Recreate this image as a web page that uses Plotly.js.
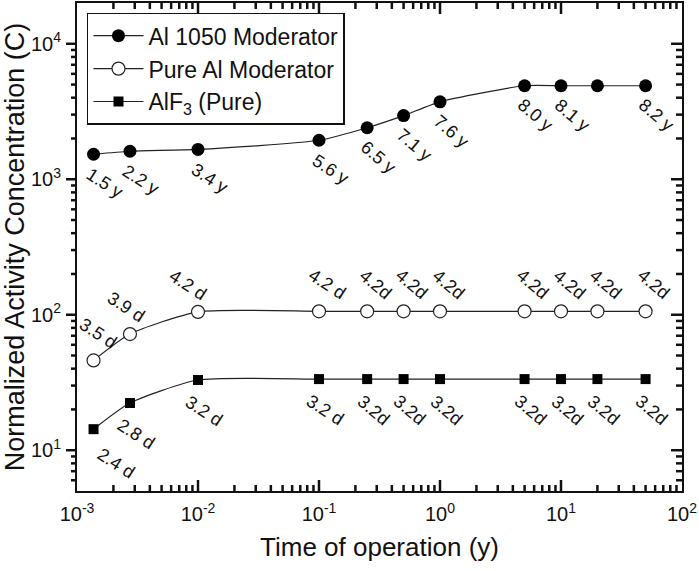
<!DOCTYPE html>
<html>
<head>
<meta charset="utf-8">
<script src="https://cdn.plot.ly/plotly-3.0.1.min.js"></script>
<style>
  html, body { margin: 0; padding: 0; background: #fff; }
  #plot { width: 699px; height: 571px; }
</style>
</head>
<body>
<div id="plot"></div>
<script>
// time of operation (years)
var timeYears = [0.00137, 0.00274, 0.01, 0.1, 0.25, 0.5, 1, 5, 10, 20, 50];

// normalized activity concentration
var al1050 = [1530, 1610, 1660, 1940, 2400, 2950, 3730, 4900, 4900, 4900, 4900];
var pureAl = [46, 72, 105, 106, 106, 106, 106, 106, 106, 106, 106];
var alf3 = [14.3, 22.3, 33, 33.5, 33.5, 33.5, 33.5, 33.5, 33.5, 33.5, 33.5];

// point labels
var al1050Labels = ["1.5 y", "2.2 y", "3.4 y", "5.6 y", "6.5 y", "7.1 y", "7.6 y", "8.0 y", "8.1 y", "", "8.2 y"];
var pureAlLabels = ["3.5 d", "3.9 d", "4.2 d", "4.2 d", "4.2d", "4.2d", "4.2d", "4.2d", "4.2d", "4.2d", "4.2d"];
var alf3Labels = ["2.4 d", "2.8 d", "3.2 d", "3.2 d", "3.2d", "3.2d", "3.2d", "3.2d", "3.2d", "3.2d", "3.2d"];

// tick labels
var xTickVals = [0.001, 0.01, 0.1, 1, 10, 100];
var xTickText = ["10<sup>-3</sup>", "10<sup>-2</sup>", "10<sup>-1</sup>", "10<sup>0</sup>", "10<sup>1</sup>", "10<sup>2</sup>"];
var yTickVals = [10, 100, 1000, 10000];
var yTickText = ["10<sup>1</sup>", "10<sup>2</sup>", "10<sup>3</sup>", "10<sup>4</sup>"];

// minor tick positions: 2..9 within every decade
function minorTicks(lo, hi, vmin, vmax) {
    var out = [];
    for (var p = lo; p < hi; p++) {
        for (var m = 2; m <= 9; m++) {
            var v = m * Math.pow(10, p);
            if (v > vmin && v < vmax) out.push(v);
        }
    }
    return out;
}
var xMinor = minorTicks(-3, 2, 0.001, 100);
var yMinor = minorTicks(0, 5, 5, 20000);

var font = "Liberation Sans, Arial, sans-serif";
var axisColor = '#111';
var lineStyle = {color: '#222', width: 1.2, shape: 'spline', smoothing: 0.6};

var traces = [
    {
        x: timeYears, y: al1050, name: 'Al 1050 Moderator',
        mode: 'lines+markers', line: lineStyle,
        marker: {symbol: 'circle', size: 13, color: '#000'}
    },
    {
        x: timeYears, y: pureAl, name: 'Pure Al Moderator',
        mode: 'lines+markers', line: lineStyle,
        marker: {symbol: 'circle', size: 13, color: '#fff', line: {color: '#222', width: 1.2}}
    },
    {
        x: timeYears, y: alf3, name: 'AlF<sub>3</sub> (Pure)',
        mode: 'lines+markers', line: lineStyle,
        marker: {symbol: 'square', size: 10, color: '#000'}
    }
];

// rotated labels next to each point
var annotations = [];
function addLabels(vals, labels, dx, dy, dxFirst, dyFirst) {
    for (var i = 0; i < timeYears.length; i++) {
        if (!labels[i]) continue;
        annotations.push({
            x: Math.log10(timeYears[i]), y: Math.log10(vals[i]),
            xref: 'x', yref: 'y', text: labels[i], showarrow: false,
            textangle: timeYears[i] >= 0.25 ? 40 : 33,
            xshift: i === 0 && dxFirst !== undefined ? dxFirst : dx,
            yshift: i === 0 && dyFirst !== undefined ? dyFirst : dy,
            font: {family: font, size: 18, color: '#111'}
        });
    }
}
addLabels(al1050, al1050Labels, 11, -29);
addLabels(pureAl, pureAlLabels, 8, 27, 4, 27);
addLabels(alf3, alf3Labels, 6, -31, 22, -34);

// a couple of pure Al labels sit left of their points
annotations.forEach(function(a) {
    if (a.text === "3.9 d") a.xshift = -4;
    if (a.text === "4.2 d" && Math.abs(a.x + 2) < 0.01) a.xshift = -10;
});

// tick marks as pixel-sized shapes (bottom/top/right point inside, left points outside)
var shapes = [];
var tickLine = {color: axisColor, width: 2.5};
function xTick(v, len, atTop) {
    shapes.push({type: 'line', xref: 'x', yref: 'paper', x0: v, x1: v, layer: 'above',
        ysizemode: 'pixel', yanchor: atTop ? 1 : 0, y0: 0, y1: atTop ? -len : len, line: tickLine});
}
function yTick(v, len, atRight) {
    shapes.push({type: 'line', xref: 'paper', yref: 'y', y0: v, y1: v, layer: 'above',
        xsizemode: 'pixel', xanchor: atRight ? 1 : 0, x0: 0, x1: -len, line: tickLine});
}
xTickVals.slice(1, -1).forEach(function(v) { xTick(v, 11, false); xTick(v, 11, true); });
xMinor.forEach(function(v) { xTick(v, 6, false); xTick(v, 6, true); });
yTickVals.forEach(function(v) { yTick(v, 11, false); yTick(v, 11, true); });
yMinor.forEach(function(v) { yTick(v, 6, false); yTick(v, 6, true); });

var layout = {
    width: 699, height: 571,
    margin: {l: 77, r: 17, t: 3, b: 80},
    paper_bgcolor: '#fff', plot_bgcolor: '#fff',
    font: {family: font, color: '#111'},
    showlegend: true,
    legend: {
        x: 0.0165, y: 0.98, xanchor: 'left', yanchor: 'top',
        bgcolor: '#fff', bordercolor: axisColor, borderwidth: 1.5,
        font: {family: font, size: 23, color: '#111'},
        itemwidth: 50, tracegroupgap: 0
    },
    xaxis: {
        type: 'log', range: [-3, 2],
        tickmode: 'array', tickvals: xTickVals, ticktext: xTickText,
        showgrid: false, zeroline: false,
        showline: true, linecolor: axisColor, linewidth: 2, mirror: true,
        ticks: '', ticklabelstandoff: 4,
        tickfont: {family: font, size: 20, color: '#111'},
        title: {text: 'Time of operation (y)', font: {family: font, size: 26, color: '#111'}, standoff: 14}
    },
    yaxis: {
        type: 'log', range: [Math.log10(5), Math.log10(20000)],
        tickmode: 'array', tickvals: yTickVals, ticktext: yTickText,
        showgrid: false, zeroline: false,
        showline: true, linecolor: axisColor, linewidth: 2, mirror: true,
        ticks: '', ticklabelstandoff: 10,
        tickfont: {family: font, size: 20, color: '#111'},
        title: {text: 'Normalized Activity Concentration (C)', font: {family: font, size: 27, color: '#111'}, standoff: 4}
    },
    shapes: shapes,
    annotations: annotations
};

Plotly.newPlot('plot', traces, layout, {staticPlot: true});
</script>
</body>
</html>
